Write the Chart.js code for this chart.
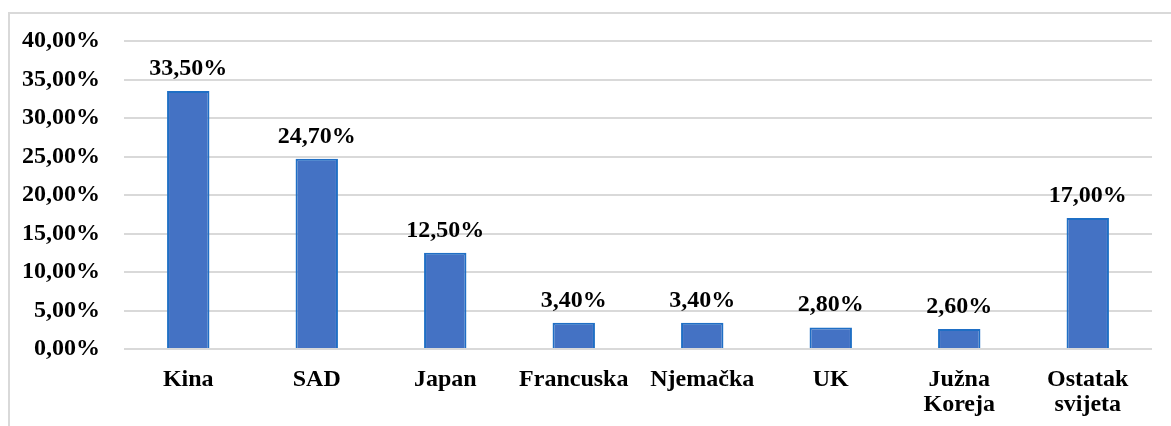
<!DOCTYPE html>
<html>
<head>
<meta charset="utf-8">
<script src="https://cdn.jsdelivr.net/npm/chart.js@4/dist/chart.umd.min.js"></script>
<style>
    body { margin: 0; background: #fff; }
    #frame {
        position: absolute; left: 8px; top: 12px; width: 1200px; height: 450px;
        border-left: 2px solid #d9d9d9; border-top: 2px solid #d9d9d9;
    }
    #wrap { position: absolute; left: 0; top: 0; width: 1171px; height: 426px; }
</style>
</head>
<body>
<div id="frame"></div>
<div id="wrap"><canvas id="chart"></canvas></div>
<script>
const categories = ['Kina', 'SAD', 'Japan', 'Francuska', 'Njemačka', 'UK', ['Južna', 'Koreja'], ['Ostatak', 'svijeta']];
const shares = [33.5, 24.7, 12.5, 3.4, 3.4, 2.8, 2.6, 17.0];
const yMin = 0;
const yMax = 40;
const yStep = 5;

const FONT = "'Liberation Serif', 'Times New Roman', serif";

function pct(v) {
    return v.toFixed(2).replace('.', ',') + '%';
}

// natpisi iznad stupaca
const barLabels = {
    id: 'barLabels',
    afterDatasetsDraw(chart) {
        const ctx = chart.ctx;
        const meta = chart.getDatasetMeta(0);
        ctx.save();
        ctx.font = 'bold 24px ' + FONT;
        ctx.fillStyle = '#000';
        ctx.textAlign = 'center';
        ctx.textBaseline = 'alphabetic';
        meta.data.forEach((bar, i) => {
            ctx.fillText(pct(shares[i]), bar.x, bar.y - 16);
        });
        ctx.restore();
    }
};

const ctx = document.getElementById('chart').getContext('2d');
const chart = new Chart(ctx, {
    type: 'bar',
    data: {
        labels: categories,
        datasets: [{
            data: shares,
            backgroundColor: '#4472C4',
            borderColor: '#1F6FC5',
            borderWidth: 2,
            categoryPercentage: 1,
            barPercentage: 0.33
        }]
    },
    options: {
        responsive: true,
        maintainAspectRatio: false,
        animation: false,
        layout: { padding: { left: 0, top: 41, right: 19, bottom: 0 } },
        plugins: {
            legend: { display: false },
            tooltip: { enabled: false }
        },
        scales: {
            x: {
                grid: { display: false, drawTicks: false },
                border: { display: false },
                ticks: {
                    color: '#000',
                    font: { family: FONT, size: 24, weight: 'bold', lineHeight: 1.05 },
                    padding: 18,
                    maxRotation: 0,
                    autoSkip: false
                },
                afterFit: s => { s.height = 426 - 349; }
            },
            y: {
                min: yMin,
                max: yMax,
                grid: { color: '#d9d9d9', lineWidth: 2, drawTicks: false },
                border: { display: false },
                ticks: {
                    stepSize: yStep,
                    color: '#000',
                    font: { family: FONT, size: 24, weight: 'bold' },
                    padding: 24,
                    callback: v => pct(v)
                },
                afterFit: s => { s.width = 124; }
            }
        }
    },
    plugins: [barLabels]
});
</script>
</body>
</html>
